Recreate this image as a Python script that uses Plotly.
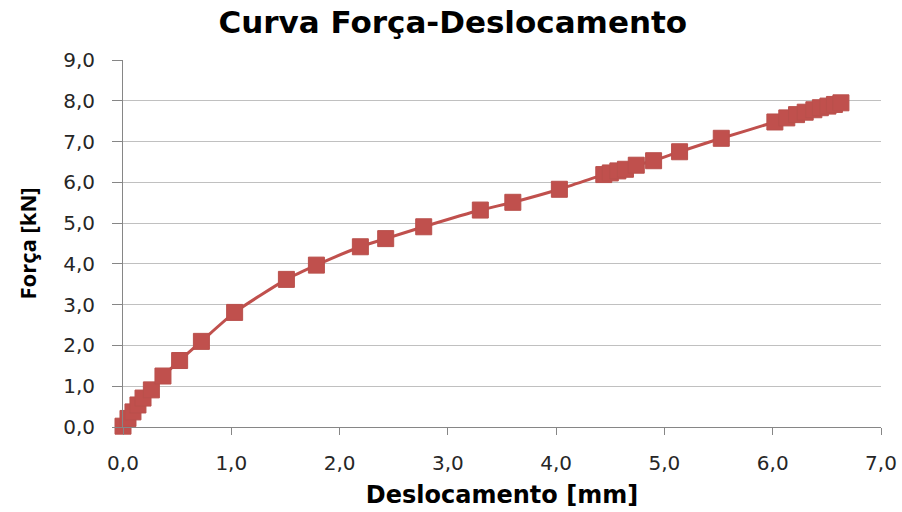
import plotly.graph_objects as go

# Deslocamento [mm]
deslocamento = [0.00, 0.046, 0.092, 0.138, 0.185, 0.262, 0.369, 0.523, 0.724, 1.031,
                1.509, 1.786, 2.192, 2.426, 2.777, 3.30, 3.60, 4.03,
                4.44, 4.50, 4.57, 4.64, 4.74, 4.90, 5.14, 5.525,
                6.02, 6.13, 6.22, 6.30, 6.38, 6.44, 6.51, 6.57, 6.63]
# Força [kN]
forca = [0.02, 0.21, 0.37, 0.54, 0.71, 0.91, 1.25, 1.63, 2.10, 2.81,
         3.62, 3.97, 4.42, 4.62, 4.91, 5.32, 5.51, 5.83,
         6.19, 6.23, 6.28, 6.32, 6.42, 6.53, 6.75, 7.08,
         7.48, 7.58, 7.66, 7.72, 7.78, 7.83, 7.87, 7.91, 7.95]

x_ticks = [0, 1, 2, 3, 4, 5, 6, 7]
y_ticks = [0, 1, 2, 3, 4, 5, 6, 7, 8, 9]

RED = "#C0504D"
WIDE = "DejaVu Sans, Verdana, sans-serif"

fig = go.Figure()
fig.add_trace(go.Scatter(
    x=deslocamento, y=forca, mode="lines+markers",
    line=dict(color=RED, width=3, shape="spline", smoothing=0.6),
    marker=dict(symbol="square", size=16, color=RED,
                line=dict(color="#B9504C", width=1)),
    showlegend=False, cliponaxis=False,
))

fig.update_layout(
    width=902, height=512,
    margin=dict(l=123, r=21, t=60, b=85),
    paper_bgcolor="white", plot_bgcolor="white",
    separators=",.",
    title=dict(text="<b>Curva Força-Deslocamento</b>", x=0.502, xanchor="center",
               y=0.957, yanchor="middle",
               font=dict(family=WIDE, size=31, color="black")),
    font=dict(family=WIDE, color="#262626"),
    xaxis=dict(
        range=[0, 7], tickvals=x_ticks, tickformat=".1f",
        showgrid=False, zeroline=False, automargin=False,
        showline=True, linecolor="#868686", linewidth=1,
        ticks="outside", ticklen=7, tickcolor="#868686",
        ticklabelstandoff=11,
        tickfont=dict(family=WIDE, size=20, color="#262626"),
        title=dict(text="<b>Deslocamento [mm]</b>", standoff=12,
                   font=dict(family=WIDE, size=24, color="black")),
    ),
    yaxis=dict(
        range=[0, 9], tickvals=y_ticks, tickformat=".1f",
        showgrid=True, gridcolor="#C0C0C0", gridwidth=1,
        zeroline=False, automargin=False,
        showline=True, linecolor="#868686", linewidth=1,
        ticks="outside", ticklen=10, tickcolor="#868686",
        ticklabelstandoff=13,
        tickfont=dict(family=WIDE, size=20, color="#262626"),
        title=dict(text="<b>Força [kN]</b>", standoff=20,
                   font=dict(family="Open Sans, sans-serif", size=22, color="black")),
    ),
)

fig.write_html("out.html")
